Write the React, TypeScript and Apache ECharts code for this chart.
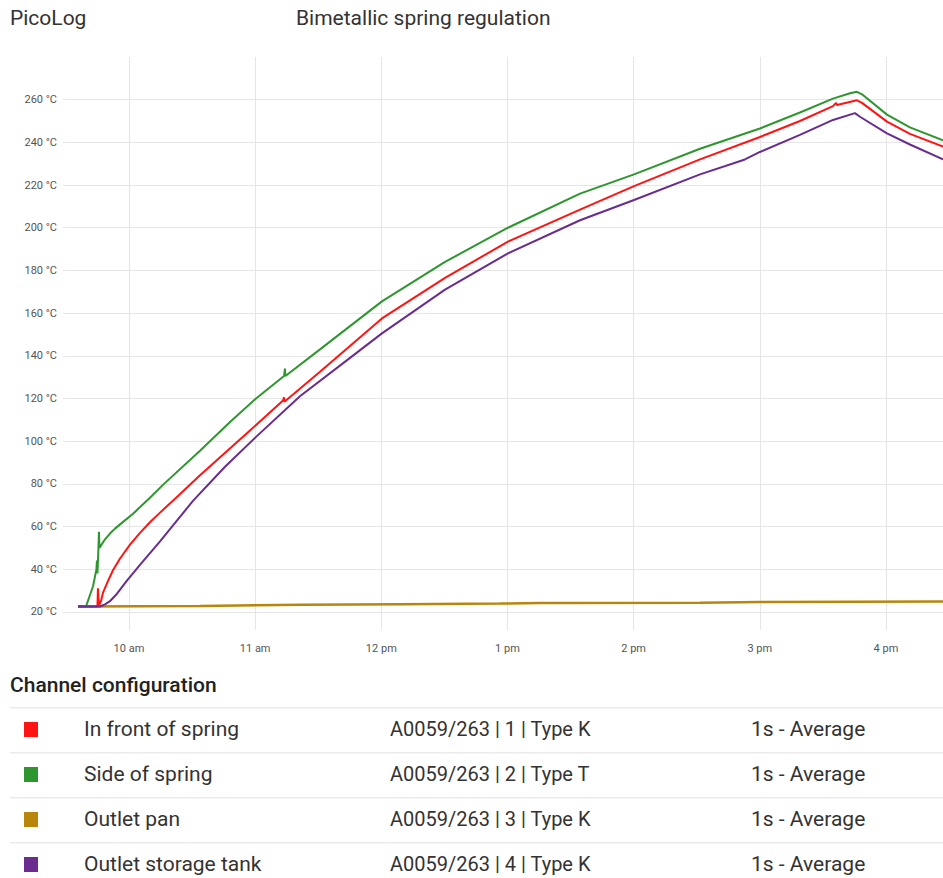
import React, { useEffect, useRef } from "react";
import * as echarts from "echarts";

// Axis ticks
const xTicks = [10, 11, 12, 13, 14, 15, 16];
const xTickLabels = ["10 am", "11 am", "12 pm", "1 pm", "2 pm", "3 pm", "4 pm"];
const yTicks = [20, 40, 60, 80, 100, 120, 140, 160, 180, 200, 220, 240, 260];

// Times in decimal hours of the day
const redTimes = [9.596, 9.75, 9.754, 9.758, 9.762, 9.778, 9.794, 9.834, 9.873, 9.929, 10.008, 10.087, 10.166, 10.246, 10.365, 10.563, 10.959, 11.221, 11.229, 11.232, 11.514, 12.005, 12.505, 13.004, 13.575, 14.003, 14.526, 15.001, 15.318, 15.58, 15.604, 15.612, 15.77, 15.81, 16.008, 16.19, 16.452];
const redValues = [22.5, 22.5, 31, 31, 23, 25, 29, 34.5, 39.5, 45, 51.5, 57, 62, 66.5, 73, 84, 105, 119, 120.5, 118.5, 132.5, 157.5, 176.5, 193.5, 208.5, 219.5, 232, 242.5, 250, 257, 258.5, 257.5, 259.7, 258.5, 249.7, 244, 238];

const greenTimes = [9.596, 9.659, 9.715, 9.742, 9.746, 9.75, 9.758, 9.762, 9.766, 9.81, 9.849, 9.889, 9.929, 10.032, 10.166, 10.269, 10.563, 10.801, 11.007, 11.229, 11.236, 11.24, 11.514, 12.005, 12.505, 13.004, 13.575, 14.003, 14.526, 15.001, 15.318, 15.58, 15.715, 15.77, 15.81, 16.008, 16.19, 16.452];
const greenValues = [22.5, 22.5, 32, 40, 44, 38, 50, 57.5, 50, 54, 56.7, 59, 61, 66, 73.5, 79.5, 95.5, 109, 120, 130.5, 134, 130.5, 143, 165.5, 184, 200, 216, 225, 237, 246.5, 254, 260.5, 263, 263.7, 262.5, 253, 247, 241];

const goldTimes = [9.596, 10.563, 11.355, 12.148, 12.941, 13.258, 14.526, 15.001, 16.452];
const goldValues = [22.5, 22.8, 23.3, 23.6, 23.9, 24.2, 24.3, 24.6, 24.8];

const purpleTimes = [9.596, 9.77, 9.81, 9.849, 9.905, 9.982, 10.087, 10.246, 10.507, 10.761, 11.007, 11.355, 11.752, 12.005, 12.505, 13.004, 13.575, 14.003, 14.526, 14.882, 15.001, 15.318, 15.58, 15.754, 15.794, 16.008, 16.19, 16.452];
const purpleValues = [22.5, 22.5, 23.5, 25, 28.5, 34.5, 42, 53, 72, 88, 102, 121, 139, 150.5, 171, 188, 203.5, 213, 225, 232, 235.5, 243.5, 250.5, 253.7, 252, 244.2, 239, 232];

// Channel configuration table
const channelNames = ["In front of spring", "Side of spring", "Outlet pan", "Outlet storage tank"];
const channelDevices = ["A0059/263 | 1 | Type K", "A0059/263 | 2 | Type T", "A0059/263 | 3 | Type K", "A0059/263 | 4 | Type K"];
const channelRates = ["1s - Average", "1s - Average", "1s - Average", "1s - Average"];
const channelColors = ["#ff1414", "#2e962e", "#b8860b", "#6a2c8e"];

const zip = (t: number[], v: number[]) => t.map((x, i) => [x, v[i]]);

export default function App() {
  const ref = useRef<HTMLDivElement>(null);
  useEffect(() => {
    document.body.style.margin = "0";
    if (!ref.current) return;
    const chart = echarts.init(ref.current, null, { renderer: "svg" });
    const font = "Roboto";
    const fs = 21;
    const seriesData = [zip(redTimes, redValues), zip(greenTimes, greenValues), zip(goldTimes, goldValues), zip(purpleTimes, purpleValues)];

    const graphics: any[] = [
      { type: "text", x: 10, y: 18, style: { text: "PicoLog", fontSize: fs, fontFamily: font, fill: "#333", verticalAlign: "middle" } },
      { type: "text", x: 296, y: 18, style: { text: "Bimetallic spring regulation", fontSize: fs, fontFamily: font, fill: "#333", verticalAlign: "middle" } },
      { type: "text", x: 10, y: 685, style: { text: "Channel configuration", fontSize: fs, fontWeight: 500, fontFamily: font, fill: "#222", verticalAlign: "middle" } },
    ];
    channelNames.forEach((name, i) => {
      const cy = 729 + i * 45;
      graphics.push({ type: "rect", shape: { x: 10, y: cy - 22, width: 933, height: 1.5 }, style: { fill: "#ebebeb" } });
      graphics.push({ type: "rect", shape: { x: 24, y: cy - 7, width: 14, height: 15 }, style: { fill: channelColors[i] } });
      graphics.push({ type: "text", x: 84, y: cy, style: { text: name, fontSize: fs, fontFamily: font, fill: "#333", verticalAlign: "middle" } });
      graphics.push({ type: "text", x: 390, y: cy, style: { text: channelDevices[i], fontSize: 20, fontFamily: font, fill: "#333", verticalAlign: "middle" } });
      graphics.push({ type: "text", x: 751, y: cy, style: { text: channelRates[i], fontSize: fs, fontFamily: font, fill: "#333", verticalAlign: "middle" } });
    });

    chart.setOption({
      animation: false,
      backgroundColor: "#fff",
      grid: { left: 63, right: 0, top: 57, bottom: 248 },
      xAxis: {
        type: "value",
        min: 9.477,
        max: 16.452,
        axisLine: { show: false },
        axisTick: { show: false, customValues: xTicks },
        splitLine: { show: true, lineStyle: { color: "#e6e6e6", width: 1 } },
        axisLabel: {
          customValues: xTicks,
          margin: 13,
          fontSize: 11,
          fontFamily: font,
          color: "#555",
          formatter: (v: number) => xTickLabels[xTicks.indexOf(Math.round(v))] ?? "",
        },
      },
      yAxis: {
        type: "value",
        min: 11.5,
        max: 280,
        axisLine: { show: false },
        axisTick: { show: false, customValues: yTicks },
        splitLine: { show: true, lineStyle: { color: "#e6e6e6", width: 1 } },
        axisLabel: {
          customValues: yTicks,
          margin: 6,
          fontSize: 11,
          fontFamily: font,
          color: "#555",
          formatter: (v: number) => `${v} °C`,
        },
      },
      series: channelNames.map((name, i) => ({
        name,
        type: "line",
        data: seriesData[i],
        showSymbol: false,
        symbol: "none",
        lineStyle: { color: channelColors[i], width: i === 2 ? 2.5 : 2 },
        itemStyle: { color: channelColors[i] },
        z: i === 2 ? 1 : 2 + i,
      })),
      graphic: graphics,
    });
    return () => chart.dispose();
  }, []);
  return <div ref={ref} style={{ width: 943, height: 878 }} />;
}
